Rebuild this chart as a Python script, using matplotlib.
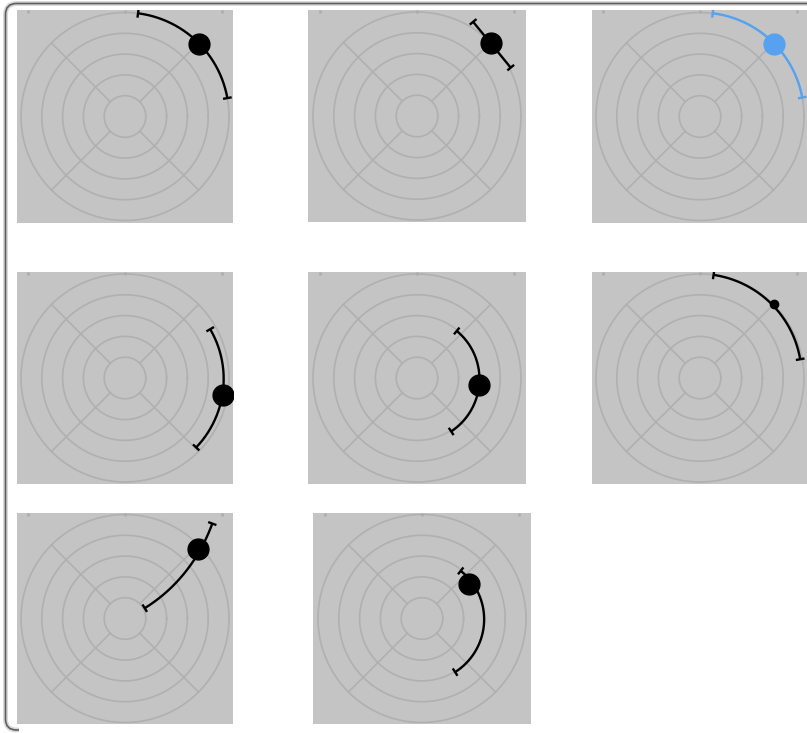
import numpy as np
import matplotlib
matplotlib.use("Agg")
import matplotlib.pyplot as plt
from matplotlib.patches import FancyBboxPatch
from matplotlib.lines import Line2D
from matplotlib.transforms import IdentityTransform

W, H = 807, 733
RING = 20.8  # pixels per radial unit

# ---- data (angles in degrees, radii in grid units) ----
point_theta = [44.5, 44.6, 44.4, -9.9, -6.7, 45.0, 43.6, 35.8]
point_r     = [5.0, 5.0, 5.0, 4.76, 3.0, 5.0, 4.85, 2.8]
err_kind    = ["polar", "straight", "polar", "polar", "polar", "polar", "polar", "polar"]
err_t0      = [10.2, 59.2, 10.5, -44.3, -57.4, 10.6, 27.6, -58.3]
err_r0      = [5.0, 5.27, 5.0, 4.78, 3.05, 4.9, 1.07, 3.03]
err_t1      = [82.8, 27.3, 83.0, 29.8, 49.8, 82.5, 47.4, 50.9]
err_r1      = [5.0, 5.07, 5.0, 4.72, 2.96, 5.0, 6.2, 2.95]
marker_big  = [True, True, True, True, True, False, True, True]
colors      = ["#000000", "#000000", "#56a2f0", "#000000", "#000000", "#000000", "#000000", "#000000"]

grid_radii = [1, 2, 3, 4, 5]
spoke_angles = [45, 135, 225, 315]

# panel boxes in pixels: left, top, right, bottom
boxes = [
    (17, 10, 233, 223), (308, 10, 526, 222), (592, 10, 808, 223),
    (17, 272, 233, 484), (308, 272, 526, 484), (592, 272, 808, 484),
    (17, 513, 233, 724), (313, 513, 531, 724),
]

fig = plt.figure(figsize=(W / 100, H / 100), dpi=100)
fig.patch.set_facecolor("white")

# window-like frame
shadow = FancyBboxPatch((5.5, 3.0), 900, 726.5, boxstyle="round,pad=0,rounding_size=11",
                        transform=IdentityTransform(), facecolor="none",
                        edgecolor="#d8d8d8", linewidth=3.5, zorder=0)
frame = FancyBboxPatch((5.5, 3.0), 900, 726.5, boxstyle="round,pad=0,rounding_size=11",
                       transform=IdentityTransform(), facecolor="none",
                       edgecolor="#5e5e5e", linewidth=1.2, zorder=1)
cover = Line2D([22, 900], [3.0, 3.0], transform=IdentityTransform(),
               color="white", linewidth=5, zorder=2)
fig.patches.extend([shadow, frame])
fig.lines.append(cover)


def err_path(kind, t0, r0, t1, r1):
    if kind == "polar":
        t = np.deg2rad(np.linspace(t0, t1, 300))
        r = np.linspace(r0, r1, 300)
    else:
        t = np.deg2rad(np.array([t0, t1]))
        r = np.array([r0, r1])
    return r * np.cos(t), r * np.sin(t)


for i, (l, t, r, b) in enumerate(boxes):
    ax = fig.add_axes([l / W, 1 - b / H, (r - l) / W, (b - t) / H])
    ax.set_facecolor("#c4c4c4")
    hw = (r - l) / 2 / RING
    hh = (b - t) / 2 / RING
    ax.set_xlim(-hw, hw)
    ax.set_ylim(-hh, hh)
    for s in ax.spines.values():
        s.set_visible(False)
    ax.set_yticks([])
    ax.set_xticks([-4.64, 0, 4.64])
    ax.tick_params(axis="x", bottom=False, top=True, labelbottom=False,
                   direction="in", length=2.5, width=1.8, color="#acacac")

    # grid
    th = np.linspace(0, 2 * np.pi, 400)
    for gr in grid_radii:
        ax.plot(gr * np.cos(th), gr * np.sin(th), color="#b0b0b0", lw=1.2, zorder=1)
    for sa in spoke_angles:
        a = np.deg2rad(sa)
        ax.plot([np.cos(a) * grid_radii[0], np.cos(a) * grid_radii[-1]],
                [np.sin(a) * grid_radii[0], np.sin(a) * grid_radii[-1]],
                color="#b0b0b0", lw=1.2, zorder=1)

    c = colors[i]
    x, y = err_path(err_kind[i], err_t0[i], err_r0[i], err_t1[i], err_r1[i])
    ax.plot(x, y, color=c, lw=1.7, zorder=3, solid_capstyle="butt")

    # caps perpendicular to the error line at both ends
    cap_half = 0.21
    for (xe, ye, xn, yn) in [(x[0], y[0], x[1], y[1]), (x[-1], y[-1], x[-2], y[-2])]:
        dx, dy = xn - xe, yn - ye
        n = np.hypot(dx, dy)
        px, py = -dy / n, dx / n
        ax.plot([xe - px * cap_half, xe + px * cap_half],
                [ye - py * cap_half, ye + py * cap_half],
                color=c, lw=1.7, zorder=3, solid_capstyle="butt")

    pa = np.deg2rad(point_theta[i])
    ax.plot([point_r[i] * np.cos(pa)], [point_r[i] * np.sin(pa)], "o",
            color=c, markersize=15.0 if marker_big[i] else 6.0, zorder=4)

fig.savefig("out.png", dpi=100, facecolor=fig.get_facecolor())
